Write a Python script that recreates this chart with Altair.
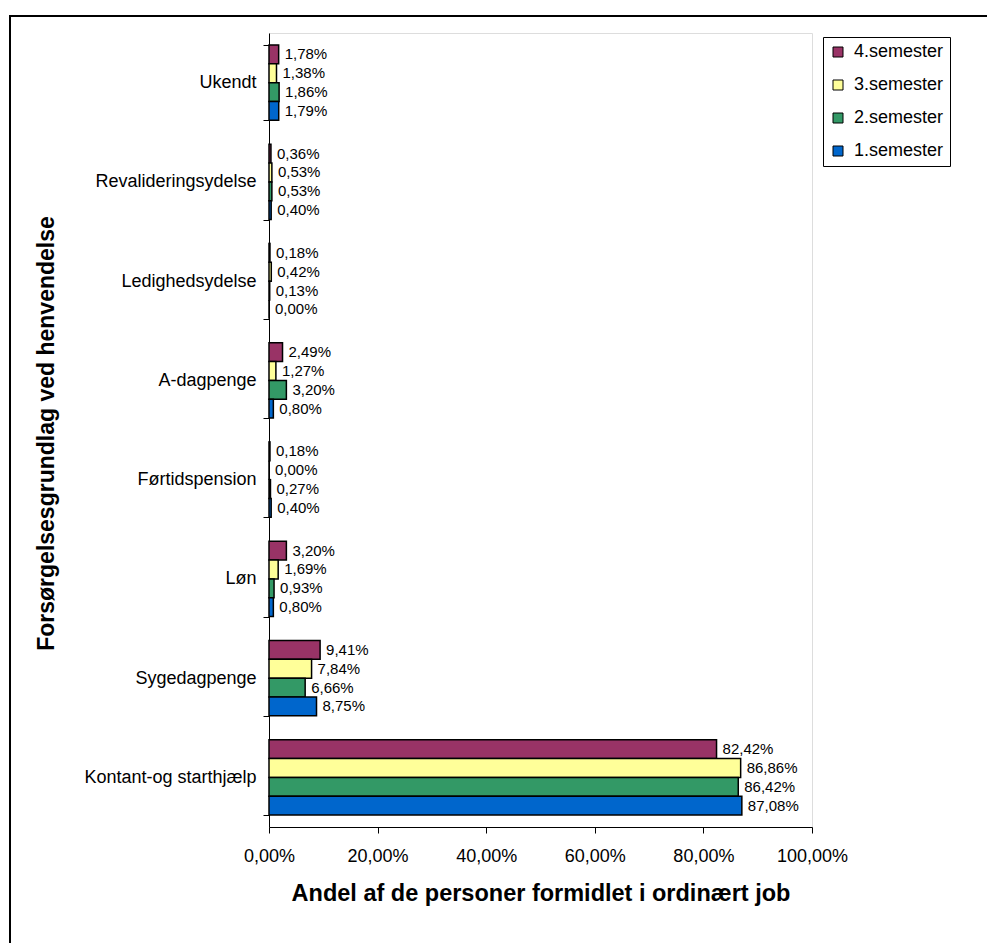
import altair as alt
import pandas as pd

# Income basis at first contact, listed top to bottom
categories = [
    "Ukendt",
    "Revalideringsydelse",
    "Ledighedsydelse",
    "A-dagpenge",
    "Førtidspension",
    "Løn",
    "Sygedagpenge",
    "Kontant-og starthjælp",
]

semesters = ["4.semester", "3.semester", "2.semester", "1.semester"]
colors = ["#993366", "#FFFF99", "#339966", "#0066CC"]

# Share (%) of people placed in ordinary jobs, per category
sem4 = [1.78, 0.36, 0.18, 2.49, 0.18, 3.20, 9.41, 82.42]
sem3 = [1.38, 0.53, 0.42, 1.27, 0.00, 1.69, 7.84, 86.86]
sem2 = [1.86, 0.53, 0.13, 3.20, 0.27, 0.93, 6.66, 86.42]
sem1 = [1.79, 0.40, 0.00, 0.80, 0.40, 0.80, 8.75, 87.08]

x_ticks = [0, 20, 40, 60, 80, 100]

rows = []
for sem, vals in zip(semesters, [sem4, sem3, sem2, sem1]):
    for cat, v in zip(categories, vals):
        rows.append({
            "Kategori": cat,
            "Semester": sem,
            "Andel": v,
            "Etiket": f"{v:.2f}".replace(".", ",") + "%",
        })
df = pd.DataFrame(rows)

FONT = "Liberation Sans"
W, H = 543, 794

y_enc = alt.Y(
    "Kategori:N",
    sort=categories,
    scale=alt.Scale(paddingInner=0.24, paddingOuter=0.12),
    axis=alt.Axis(
        title="Forsørgelsesgrundlag ved henvendelse",
        titleFont=FONT,
        titleFontSize=23,
        titleFontWeight="bold",
        titleColor="black",
        titleAngle=-90,
        titleX=-216,
        titleY=400,
        titleAlign="center",
        titleBaseline="alphabetic",
        labelFont=FONT,
        labelFontSize=18,
        labelColor="black",
        labelPadding=7,
        tickBand="extent",
        tickSize=6,
        tickColor="black",
        domainColor="black",
        labelLimit=400,
    ),
)

x_enc = alt.X(
    "Andel:Q",
    scale=alt.Scale(domain=[0, 100], nice=False),
    axis=alt.Axis(
        title="Andel af de personer formidlet i ordinært job",
        titleFont=FONT,
        titleFontSize=23.5,
        titleFontWeight="bold",
        titleColor="black",
        titleX=W / 2,
        titleY=73,
        titleAlign="center",
        titleBaseline="alphabetic",
        values=x_ticks,
        labelExpr="replace(format(datum.value, '.2f'), '.', ',') + '%'",
        labelFont=FONT,
        labelFontSize=18,
        labelColor="black",
        labelPadding=14,
        labelFlush=False,
        labelOverlap=False,
        tickSize=6,
        tickColor="black",
        domainColor="black",
        grid=False,
    ),
)

y_off = alt.YOffset("Semester:N", sort=semesters)

bars = alt.Chart(df).mark_bar(stroke="black", strokeWidth=1.5).encode(
    x=x_enc,
    y=y_enc,
    yOffset=y_off,
    color=alt.Color(
        "Semester:N",
        sort=semesters,
        scale=alt.Scale(domain=semesters, range=colors),
        legend=alt.Legend(
            title=None,
            orient="none",
            legendX=554,
            legendY=4,
            labelFont=FONT,
            labelFontSize=18,
            labelColor="black",
            labelOffset=7,
            symbolType="square",
            symbolSize=100,
            symbolStrokeColor="black",
            symbolStrokeWidth=1,
            rowPadding=15,
            padding=6,
            strokeColor="black",
            fillColor="white",
        ),
    ),
)

labels = alt.Chart(df).mark_text(
    align="left", baseline="middle", dx=6, font=FONT, fontSize=15, color="black"
).encode(
    x="Andel:Q",
    y=alt.Y("Kategori:N", sort=categories),
    yOffset=y_off,
    text="Etiket:N",
)

# Outer chart frame (runs off the right and bottom edges)
frame = alt.Chart(pd.DataFrame({"k": [0]})).mark_rect(
    filled=False, stroke="black", strokeWidth=2
).encode(
    x=alt.value(-259), x2=alt.value(760),
    y=alt.value(-17), y2=alt.value(960),
)

chart = alt.layer(frame, bars, labels).properties(
    width=W,
    height=H,
    autosize=alt.AutoSizeParams(type="none"),
    padding={"left": 269, "top": 33, "right": 175, "bottom": 116},
).configure_view(
    stroke="#808080", strokeWidth=1
).configure(background="white")

chart.save("out.html", embed_options={"renderer": "svg", "actions": False})
